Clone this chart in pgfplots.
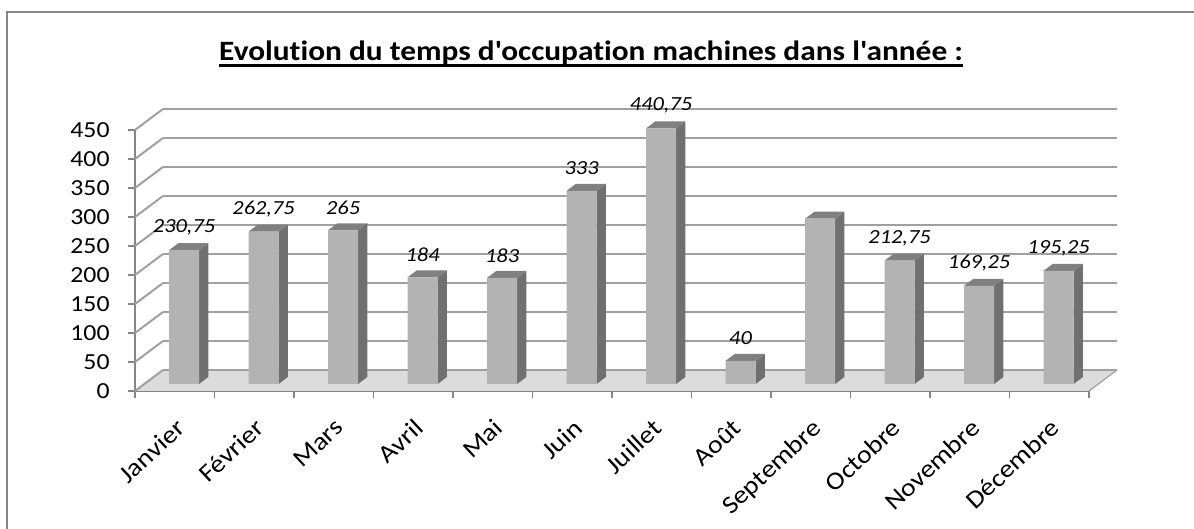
\documentclass[border=0pt]{standalone}
\usepackage{pgfplots}
\pgfplotsset{compat=1.18}
\usepackage{pgfplotstable}
\usepackage{fontspec}
\setmainfont{Carlito}[Ligatures=NoCommon, FakeStretch=1.12]
\definecolor{frontc}{RGB}{179,179,179}
\definecolor{sidec}{RGB}{112,112,112}
\definecolor{topc}{RGB}{128,128,128}
\definecolor{gridc}{RGB}{160,160,160}
\definecolor{axisc}{RGB}{134,134,134}
\definecolor{floorc}{RGB}{220,220,220}
\definecolor{framec}{RGB}{134,134,134}

\pgfplotstableread{
x v
0 230.75
1 262.75
2 265
3 184
4 183
5 333
6 440.75
7 40
8 285
9 212.75
10 169.25
11 195.25
}\occ

\pgfplotstableread{
x v
0 230.75
1 262.75
2 265
3 184
4 183
5 333
6 440.75
7 40
9 212.75
10 169.25
11 195.25
}\occlab

\begin{document}
\begin{tikzpicture}
\useasboundingbox (0,0) rectangle (597pt,264.5pt);
\draw[framec, line width=1pt] (3.5pt,0) -- (3.5pt,258.5pt) -- (597pt,258.5pt);
\node[inner sep=0, anchor=base, font=\bfseries\fontsize{14}{16}\selectfont] (t) at (295.5pt,234pt) {Evolution du temps d\textquotesingle occupation machines dans l\textquotesingle année :};
\draw[line width=1.3pt] ([yshift=-2.2pt]t.base west) -- ([yshift=-2.2pt]t.base east);
\begin{axis}[
  at={(67.5pt,69pt)}, anchor=south west,
  scale only axis, width=477pt, height=130.5pt,
  xmin=-0.5, xmax=11.5, ymin=0, ymax=450,
  clip=false,
  axis x line*=bottom, axis y line*=left,
  axis line style={axisc, line width=0.8pt, -},
  tick style={axisc, line width=0.8pt},
  tick align=outside, major tick length=3.5pt,
  ytick={0,50,...,450}, yticklabels={,,,,,,,,,},
  xtick={-0.5,0.5,...,11.5}, xticklabels={,,,,,,,,,,,,},
  extra x ticks={0,1,...,11},
  extra x tick labels={Janvier,Février,Mars,Avril,Mai,Juin,Juillet,Août,Septembre,Octobre,Novembre,Décembre},
  extra x tick style={major tick length=0pt, tick label style={inner sep=0pt, xshift=0pt, yshift=-13pt, rotate=43, anchor=north east, font=\fontsize{12.5}{14}\selectfont}},
  /pgf/number format/use comma,
  /pgf/number format/assume math mode=true,
]
% floor
\fill[floorc] (axis cs:-0.5,0) -- (axis cs:11.5,0) -- ([xshift=14pt,yshift=10.5pt]axis cs:11.5,0) -- ([xshift=14pt,yshift=10.5pt]axis cs:-0.5,0) -- cycle;
\draw[gridc, line width=0.6pt] (axis cs:11.5,0) -- ([xshift=14pt,yshift=10.5pt]axis cs:11.5,0);
% back wall, left wall, y tick labels
\pgfplotsinvokeforeach{0,50,...,450}{
  \draw[gridc, line width=1pt] ([xshift=14pt,yshift=10.5pt]axis cs:-0.5,#1) -- ([xshift=14pt,yshift=10.5pt]axis cs:11.5,#1);
  \draw[gridc, line width=1pt] (axis cs:-0.5,#1) -- ([xshift=14pt,yshift=10.5pt]axis cs:-0.5,#1);
  \node[anchor=east, inner sep=0pt, font=\fontsize{11.5}{13}\selectfont] at ([xshift=-12.5pt]axis cs:-0.5,#1) {#1};
}
% side and top faces
\pgfplotsinvokeforeach{0,...,11}{
  \pgfplotstablegetelem{#1}{v}\of\occ
  \edef\tmp{%
    \noexpand\fill[sidec] ([xshift=12.17pt,yshift=3.5pt]axis cs:#1,0) -- ([xshift=16.83pt,yshift=7pt]axis cs:#1,0) -- ([xshift=16.83pt,yshift=7pt]axis cs:#1,\pgfplotsretval) -- ([xshift=12.17pt,yshift=3.5pt]axis cs:#1,\pgfplotsretval) -- cycle;
    \noexpand\fill[topc] ([xshift=-2.83pt,yshift=3.5pt]axis cs:#1,\pgfplotsretval) -- ([xshift=12.17pt,yshift=3.5pt]axis cs:#1,\pgfplotsretval) -- ([xshift=16.83pt,yshift=7pt]axis cs:#1,\pgfplotsretval) -- ([xshift=1.83pt,yshift=7pt]axis cs:#1,\pgfplotsretval) -- cycle;
  }\tmp
}
% front faces
\addplot[ybar, bar width=15pt, bar shift=4.67pt, yshift=3.5pt, fill=frontc, draw=none] table[x=x,y=v]{\occ};
% labels
\addplot[draw=none, mark=none, nodes near coords, point meta=y,
  nodes near coords style={anchor=center, xshift=4.67pt, yshift=14.8pt, font=\itshape\fontsize{10}{12}\selectfont,
  /pgf/number format/fixed, /pgf/number format/precision=2}] table[x=x,y=v]{\occlab};
\end{axis}
\end{tikzpicture}
\end{document}
